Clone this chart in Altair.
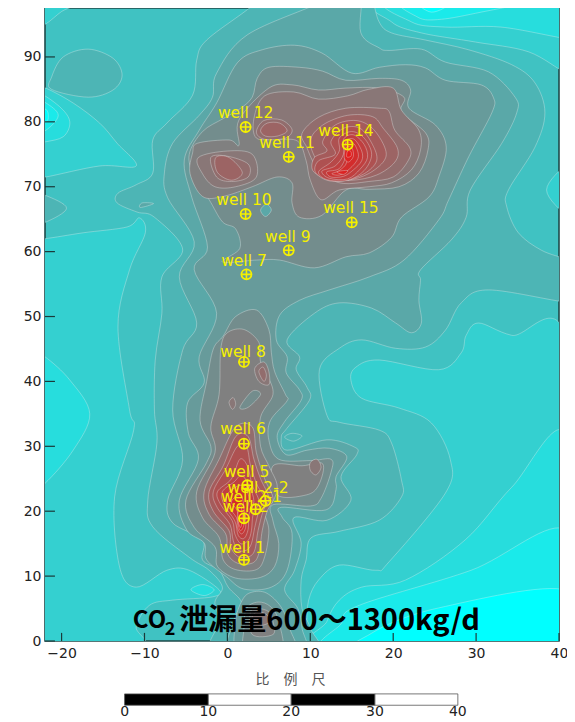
import altair as alt
import pandas as pd

# contour bands: (x, y) in axis units
L3_LEFT = [(-22,62),(-17.4,62.9),(-12.1,63.8),(-10.6,65.2),(-9.9,62.9),(-11.8,57.2),(-13.2,48.4),(-11.8,35.6),(-11.3,32.5),(-13.6,22.2),(-13,11.4),(-11,8.3),(-7.3,10.9),(-4.6,10.9),(-1,7.9),(-1.8,6.8),(-6.6,6.3),(-9.4,5.5),(-11,2.2),(-10.6,-1),(-24,-1),(-24,62)]
L2_LEFT = [(-22,43.8),(-19,40.2),(-16.6,35),(-18.6,29.4),(-22,24.3),(-24,23),(-24,45)]
L2_SPOT = [(-4.4,7.9),(-3,8.7),(-1.6,7.9),(-2.8,7)]
L3_UPLEFT = [(-21.9,85.2),(-18.6,82.9),(-15.4,79.8),(-13.3,76.7),(-11,73.2),(-15.4,73.2),(-21.9,71.5),(-24,71.3),(-24,86)]
L2_UPLEFT = [(-22,84),(-19.8,81.8),(-19,79.8),(-19.8,77.7),(-22,76.9),(-24,76.5),(-24,85)]
L1_UPLEFT = [(-22,83),(-20.4,81),(-22,78.6),(-24,78),(-24,84)]
L0_UPLEFT = [(-22,82),(-21.6,80.8),(-22,80),(-24,80),(-24,82)]
L3_CORNER = [(-22,95),(-20,97),(-18.5,98),(-18,100),(-24,100),(-24,94)]
L3_RIGHT = [(41,45.9),(34.3,47.1),(30.3,49),(28.8,47.1),(28.2,44.4),(25.5,41.8),(18.3,43.3),(15.5,42.2),(14.9,40.2),(16.2,37.4),(20.7,35.9),(24.6,33.6),(26.9,27.9),(26.3,22.8),(19.5,12.2),(17.9,10.9),(13.5,11.7),(11,9.4),(9.8,6.3),(9.5,2),(9,-2),(42,-2)]
L2_RIGHT = [(41,31.5),(34.3,23.7),(28.7,15.6),(21.5,9.4),(16.2,8.3),(13.5,6.3),(12,3),(11,-2),(42,-2)]
L1_RIGHT = [(41,17),(29.4,10.9),(15.9,5.5),(13.8,2.8),(13,-2),(42,-2)]
L0_RIGHT = [(41,7.8),(25.5,5.1),(17.4,1.2),(16.7,-2),(42,-2)]
L3_EDGE = [(41,73.5),(38.5,69.5),(41,65.5),(42,66),(42,73)]
L3_TOP = [(18.6,99),(19.8,95.4),(23.4,93.7),(29.9,92.3),(36.3,90.8),(41,87.5),(43,88),(43,100)]
L2_TOP = [(20,99),(22.2,95.4),(26.3,94.6),(33,94.6),(41,92.8),(43,93),(43,100)]
L1_TOP = [(21.5,99),(23,96.1),(25.8,95.8),(30.6,96.9),(36.3,98.5),(37,100)]
L0_TOP = [(22.5,99),(24.6,96.9),(27,98.5),(25,100)]
L5_SPOT_A = [(-24,69.2),(-22,68.7),(-19.4,66.7),(-22,64.5),(-24,64.2)]
L5_SPOT_B = [(-21.2,86.9),(-19.8,90),(-16.8,91.2),(-13.8,89.8),(-12.7,87.2),(-13.8,84.9),(-16.8,83.8),(-21.2,85)]
L5_MAIN = [(17.5,99),(18.3,95.4),(19.8,93.7),(23.9,92.6),(29.1,91.1),(34.3,88.8),(37.1,86),(38.3,81.4),(37.1,76.1),(33.9,69.5),(33.7,66.9),(35.1,62.9),(37.9,60.2),(41,58.8),(42,58),(42,53),(41,52.2),(31.5,54.1),(28.2,52.1),(26.3,47.9),(23.9,45.3),(20.3,45.1),(16.2,46.4),(13.5,45.1),(11.1,41.8),(12,34.8),(13.5,33.7),(18.3,32.5),(19.8,30.5),(21,24.8),(21,22.2),(18.3,18.6),(13.5,16.9),(10.1,15.9),(9.5,12.5),(8.9,9.4),(9,5),(10,2),(10.5,-2),(-1.5,-2),(-1,3),(-1.5,6),(-.6,8.3),(-2.2,10.9),(-4.6,12.9),(-9,17.6),(-9.6,21.7),(-8.5,30.5),(-8.8,35.6),(-8.7,43.3),(-7.9,50.5),(-7.9,56.1),(-5.4,60.4),(-8.8,65.3),(-10.9,66.1),(-13.3,67.5),(-13.2,69),(-11,70.3),(-9,72.1),(-9,77.2),(-7.3,79.8),(-4.2,84.1),(-3.7,89.5),(-2.5,92.6),(2.9,97.8),(4,100),(17,100)]
L6_MAIN = [(15.9,100),(16.1,93.7),(18.3,91.4),(19.5,91),(23.4,91.2),(26.3,89.2),(31.5,87.7),(34.7,83.8),(34.9,81.4),(33.1,76.7),(29.3,69.5),(28.8,65.3),(27,61.8),(23.3,57.2),(23.3,55.6),(23.1,52.5),(23.4,49),(22.2,47.5),(20.3,49),(17.4,51.3),(13.5,52.1),(10.5,50.5),(7.2,46.4),(8.7,43.8),(8.3,41.8),(9.6,39.1),(9.9,37.1),(7.2,32.8),(6.5,31.4),(7.2,29.4),(12,31),(15.3,29.9),(15.6,28.7),(13.7,25.3),(14.9,21.7),(12,18.6),(8,19),(8.9,15.1),(8.1,10.9),(6.9,7.9),(8.5,5),(9,2),(9,-2),(.5,-2),(.8,3.2),(1.7,5.9),(.1,8.3),(-1,10.9),(-3,12.5),(-3,15.6),(-6.6,18.2),(-7.2,21.7),(-5.4,27.9),(-6.6,35.6),(-5.4,44.8),(-3.7,49),(-5.8,56.1),(-4,61.5),(-7.2,68.3),(-7.6,72.1),(-6.6,76.7),(-3.4,81),(-1.8,83.8),(-1.3,87.5),(2.4,93.4),(11.4,98.5),(12,100)]
L5_LENS = [(6.9,31.4),(7.8,32),(9,31.6),(8,30.8)]
L6_DOT = [(-10.5,66.8),(-10.3,67.5),(-8.9,67.4)]
L7_MAIN = [(1.2,89.1),(4.2,91.1),(8.1,91.8),(11.4,90.6),(15,87.5),(18.3,88.4),(21.5,88.8),(23.9,88.3),(26.3,86.4),(30.6,85.7),(32.1,83.7),(31.9,81.4),(29.1,74.6),(26.7,68),(25.5,64.9),(21.3,58.7),(17.1,56.1),(12.3,54.1),(8.7,52.5),(6.3,50.2),(5.9,46.4),(7.2,43.8),(7.1,41.3),(8.7,38.7),(8.9,37.1),(6.9,33.8),(6,31.4),(7.1,28.7),(9.6,29.4),(12.3,29.7),(14.4,28.4),(13.1,25.3),(13.1,23.3),(11.9,20.2),(6.5,20.6),(6.6,19.1),(7.8,16.6),(7.2,10.9),(5.3,8.3),(2,8),(-.1,9.9),(-2.5,12.5),(-2.8,15.1),(-4.9,17.1),(-5.8,21.7),(-3.5,28),(-4.7,32),(-4.8,36.7),(-2.8,39.8),(-3.4,43.8),(-1.3,50.5),(-4,57.2),(-2.4,60.7),(-4.3,68.4),(-5.2,74.1),(-3.4,78.7),(-1.3,82.9)]
L7_BLOB = [(1.8,6.3),(2.9,7.5),(4.7,7.4),(6.5,5.2),(7.5,2),(8,-2),(1.5,-2),(1,3)]
L8_BLOB = [(2.3,5),(3.7,6),(5.2,5.3),(6.2,3),(6.5,-2),(2.2,-2),(2,2)]
L9_BLOB = [(2.8,4.5),(3.7,5),(5,4.5),(5.5,3),(5.5,1),(3,1)]
L10_BLOB = [(3,3.8),(3.7,4.5),(4.8,4),(5,2.8),(3.2,2.3)]
L6_SPOT_A = [(14.8,68.7),(16.3,68.8),(17.5,67.8),(15.5,67.5)]
L6_SPOT_B = [(4,66.4),(4.7,67.3),(5.3,66.4),(4.6,65.4)]
L8_NORTH = [(8.7,88.4),(5,88.4),(3.6,86.7),(3,83.8),(1.5,82),(-.5,80.5),(-3,78.5),(-4.6,75),(-4,71.5),(-2.2,68),(-.6,64.6),(1,63.5),(1.5,60.5),(-.6,58.4),(3.5,58.7),(6.3,58.7),(10.5,57.5),(14.3,59.2),(17.1,59.8),(19.8,62.2),(21,65.3),(24.3,68.4),(25.5,71.5),(26.4,76.1),(25.1,79.5),(21.9,82.1),(22.1,84.9),(21,86.4),(18.3,86.7),(14.3,86.4),(11.5,87.8)]
L9_NORTH = [(1.4,80.3),(5,85.2),(7.8,85.7),(11,84.9),(14.3,85.2),(18.3,85.2),(21.3,83.8),(21,81.5),(23.9,78.3),(24.2,75.7),(23.1,72.1),(20.7,70),(17.1,69.6),(14.3,69.5),(11.4,65.6),(8.7,65.3),(7.8,67.5),(7.8,70.6),(6,71.5),(3,70),(-.5,68.5),(-3,68.5),(-4.5,72),(-4.2,75.2),(-3.6,76.7),(.2,77.2),(1.4,76.4)]
L10_EAST = [(17,85),(20,85.2),(21,81.8),(23.1,78.7),(23.3,75.7),(22.2,72.6),(19.8,70.6),(17.1,70),(13.5,69.5),(11.3,68),(10,71),(9.5,74),(8.5,77),(6,77.3),(3.5,77.5),(3.2,80.5),(4.5,84),(8,84.6),(11,83.5),(14.5,84)]
L10_WEST = [(-3.5,74.5),(0,75.5),(3,75),(3.5,71.5),(1,70),(-1.5,70),(-3,72)]
L11_WEST = [(-2,74.5),(0,74.7),(2.5,73.5),(2.5,71.5),(.5,70.8),(-1.3,71.5)]
L12_WEST = [(-1.4,74.5),(.2,74.5),(1.8,72.2),(.5,71),(-1.2,72.2)]
L11_NW = [(3.5,78.4),(4.4,80.2),(6.5,80.3),(7.8,78.8),(7,77.5),(4.5,77.3)]
L12_NW = [(4,78.7),(4.8,79.8),(6.3,79.8),(7.2,78.6),(6,77.8),(4.6,77.8)]
L11_EAST = [(9,78.2),(11,80.7),(14.3,82.1),(18.3,82.1),(19.5,81.6),(20.2,78.7),(22,76),(21.8,74),(20,71.5),(17,70.8),(14,70.5),(12,71.5),(10.5,73.5),(9.6,76)]
L12_EAST = [(10,77),(11.5,79.5),(14.5,81),(17.5,80.8),(18.8,79),(20.5,76),(20.2,73.8),(18,71.8),(15,71),(12.5,71.5),(11,73.5)]
L13_EAST = [(11.5,77),(13,79.5),(15.5,80.2),(17.5,79),(19,76),(18.9,74),(17,72),(14.5,71),(12,71.2),(10.3,72.5),(10.5,74.5),(12,75.5)]
L14_EAST = [(12.5,77),(14,79),(16,79),(17.5,76.5),(18,74),(16.5,72),(14,70.9),(12,71),(10.6,72.3),(11,74),(13,75)]
L15_EAST = [(13.5,77.5),(15,78.5),(16.5,77.5),(17.4,75),(16.5,72.5),(14.5,71),(12,71.1),(11,72.3),(12.5,73.8),(13.5,75.5)]
L16_EAST = [(14,77.3),(15.2,78),(16.5,76.5),(16.9,74.5),(16,72.7),(14.5,71.2),(12.3,71.3),(11.4,72.4),(13,73.2),(14,75)]
L17_EAST = [(14.3,77),(15.3,77.3),(16.2,75.5),(16.2,74),(15.2,72.6),(14,71.6),(12.5,71.5),(12,72.3),(13.5,72.8),(14.3,74.8)]
L18_EAST = [(14.2,76.5),(15.2,76.7),(15.8,75),(15.5,73.8),(14.5,72.5),(13.5,71.8),(12.6,72),(13.5,72.5),(14.4,73.8)]
L19_EAST = [(14.3,76),(15,76),(15.2,74.7),(14.6,73.8),(14.1,74.5)]
L19_SOUTH = [(13.2,72.3),(14.5,72.5),(14,71.9)]
L20_EAST = [(14.5,75.5),(14.9,75.4),(14.9,74.7),(14.4,74.6)]
L8_STEM = [(-.5,47),(1,50),(3.5,51),(5,48),(5.3,44.5),(5.7,41.5),(7,38),(7.2,37),(5.2,34),(5,31),(6.2,28),(10,27.8),(12.5,28),(12.5,26),(11.3,22),(10,20.8),(5.5,21),(5.5,18.5),(6.2,15),(5.7,11.5),(4,9.8),(1,9.7),(-1.2,11.5),(-1.5,14.5),(-4,17.5),(-5,21.7),(-2.5,27.5),(-2,30),(-3.3,34),(-2.5,40),(-1.7,45)]
L9_LOBE = [(5.5,27),(9,27),(11.5,27.3),(11,24),(9.5,22.5),(6,22.5)]
L10_LOBE = [(10,27.5),(10.8,28),(11.3,26.8),(10.7,25.6),(10,26.3)]
L9_STEM = [(0,47.5),(2,48),(3.8,46),(4,43),(4.8,41),(5.5,38),(4,34.5),(4,30),(5,27),(6,24),(5.5,21.5),(4.5,20),(5,17),(4.5,13),(3.5,11),(1,11),(-.5,12.5),(-1,16),(-3,19),(-3.7,23),(-1.5,29),(-2,33),(-1,38),(-.8,45)]
L8_HOLE = [(1.5,36),(3,38.5),(4,38),(2.5,36)]
L10_DOT = [(.2,36.8),(.7,37.5),(1,36.5),(.6,35.7)]
L10_UP = [(3.3,42),(4.4,43),(5,41.5),(5,39.5),(3.8,40)]
L11_UP = [(3.8,41.5),(4.3,42.2),(4.7,41),(4.4,40)]
L10_STEM = [(1,33),(3,33),(3.5,29),(4.5,25),(5.5,22),(4.8,20),(4.2,17),(3.8,13.5),(3,12),(1.2,12),(0,13.5),(-.2,16.5),(-2.2,19.5),(-2.8,23),(-1,28)]
L11_STEM = [(1,31.5),(2.5,31.5),(3.2,28),(4,25),(5,22),(4.3,20),(3.7,17),(3.3,14),(2.6,13),(1.3,13),(.4,14.5),(.2,17),(-1.7,20),(-2.2,23),(-.5,27)]
L12_STEM = [(1.2,30),(2.3,30),(2.8,27),(3.6,24),(4.5,22),(3.8,20),(3.3,17.5),(2.9,15),(2.3,14),(1.3,14),(.7,15.5),(.3,18),(-1.2,20.5),(-1.7,23),(-.2,26.5)]
L13_STEM = [(1.5,28),(2.4,27),(3,24),(3.8,21.5),(3.1,19.5),(2.9,17),(2.5,15.5),(1.6,15),(.9,16.5),(.6,18.5),(-.8,21),(-1.2,23),(.5,25)]
L14_STEM = [(1.7,25.5),(2.6,24),(3.2,21.5),(2.6,19.5),(2.5,17.2),(2,15.8),(1.3,16.3),(.9,18.5),(-.4,21),(-.6,23),(.8,24.5)]
L15_STEM = [(1.8,24),(2.6,22),(2.2,19.5),(2.2,17.5),(1.7,16.5),(1.2,17.5),(1.1,19),(0,21),(.1,22.8)]
L16_STEM = [(1.6,22.5),(2,20.5),(2,18),(1.6,17),(1.3,18),(1.2,20),(.5,21.5)]
L17_STEM = [(1.6,21),(1.8,19),(1.6,17.5),(1.3,18.5),(1.3,20)]

CONTOURS = [
    (3,L3_LEFT),(2,L2_LEFT),(2,L2_SPOT),(3,L3_UPLEFT),(2,L2_UPLEFT),(1,L1_UPLEFT),(0,L0_UPLEFT),(3,L3_CORNER),
    (3,L3_RIGHT),(2,L2_RIGHT),(1,L1_RIGHT),(0,L0_RIGHT),(3,L3_EDGE),(3,L3_TOP),(2,L2_TOP),(1,L1_TOP),(0,L0_TOP),
    (5,L5_SPOT_A),(5,L5_SPOT_B),(5,L5_MAIN),(6,L6_MAIN),(5,L5_LENS),(6,L6_DOT),(7,L7_MAIN),(7,L7_BLOB),(8,L8_BLOB),(9,L9_BLOB),(10,L10_BLOB),
    (6,L6_SPOT_A),(8,L8_NORTH),(9,L9_NORTH),(6,L6_SPOT_B),(10,L10_EAST),(10,L10_WEST),(11,L11_WEST),(12,L12_WEST),(11,L11_NW),(12,L12_NW),
    (11,L11_EAST),(12,L12_EAST),(13,L13_EAST),(14,L14_EAST),(15,L15_EAST),(16,L16_EAST),(17,L17_EAST),(18,L18_EAST),(19,L19_EAST),(19,L19_SOUTH),(20,L20_EAST),
    (8,L8_STEM),(9,L9_LOBE),(10,L10_LOBE),(9,L9_STEM),(8,L8_HOLE),(10,L10_DOT),(10,L10_UP),(11,L11_UP),
    (11,L10_STEM),(13,L11_STEM),(14,L12_STEM),(15,L13_STEM),(16,L14_STEM),(17,L15_STEM),(18,L16_STEM),(18,L17_STEM),
]

WELL_NAMES = ["well 1","well 2","well 2-1","well 2-2","well 5","well 6","well 8","well 7","well 9","well 10","well 15","well 11","well 12","well 14"]
WELL_X = [2,2,3.4,4.6,2.4,2,2,2.3,7.4,2.2,15,7.4,2.2,14.5]
WELL_Y = [12.5,18.9,20.3,21.6,24,30.4,43,56.5,60.2,65.8,64.5,74.6,79.2,76.5]
LABEL_X = [1.8,2.2,2.9,3.7,2.3,1.9,1.9,2.0,7.3,2.0,14.9,7.2,2.2,14.3]
LABEL_Y = [14.3,20.6,22.2,23.6,26.1,32.6,44.6,58.6,62.3,67.9,66.7,76.7,81.3,78.6]

X_TICKS = [-20,-10,0,10,20,30,40]
Y_TICKS = [0,10,20,30,40,50,60,70,80,90]
BAR_STARTS = [-12.4,-2.3,7.7,17.8]
BAR_ENDS = [-2.3,7.7,17.8,27.8]
BAR_FILLS = ["#000000","#ffffff","#000000","#ffffff"]
BAR_LABELS = ["0","10","20","30","40"]
BAR_LABEL_X = [-12.4,-2.3,7.7,17.8,27.8]

rows = []
i = 0
for p, (lvl, pts) in enumerate(CONTOURS):
    for (x, y) in pts:
        rows.append({"poly": p, "i": i, "x": x, "y": y, "lvl": lvl})
        i += 1
contours = pd.DataFrame(rows)

SX = alt.Scale(domain=[-22, 40], nice=False, zero=False)
SY = alt.Scale(domain=[0, 97.54], nice=False, zero=False)
AX = alt.Axis(values=X_TICKS, ticks=False, grid=False, labelFont="DejaVu Sans", labelFontSize=14, labelColor="#222222", labelPadding=5, title=None, domain=False, labelFlush=False, labelOverlap=False)
AY = alt.Axis(values=Y_TICKS, ticks=False, grid=False, labelFont="DejaVu Sans", labelFontSize=14, labelColor="#222222", labelPadding=4, title=None, domain=False, labelOverlap=False)
EX = alt.X("x:Q", scale=SX, axis=AX)
EY = alt.Y("y:Q", scale=SY, axis=AY)

bands = alt.Chart(contours).mark_line(interpolate="cardinal-closed", tension=0, clip=True, opacity=1, fillOpacity=1, stroke="#e8eeee", strokeWidth=0.7, strokeOpacity=0.5).encode(
    x=EX, y=EY,
    detail="poly:N",
    order=alt.Order("i:Q"),
    fill=alt.Fill("lvl:Q", scale=alt.Scale(domain=[0,1,9,21], range=["#00ffff","#1aeaea","#808080","#ee1010"], interpolate="rgb"), legend=None),
)

xt = pd.DataFrame({"x": X_TICKS, "y": [0]*7, "y2": [1.25]*7})
x_ticks = alt.Chart(xt).mark_rule(color="#1a3a3a", strokeWidth=1.2).encode(x=EX, y=EY, y2="y2:Q")
yt = pd.DataFrame({"y": Y_TICKS, "x": [-22]*10, "x2": [-20.8]*10})
y_ticks = alt.Chart(yt).mark_rule(color="#1a3a3a", strokeWidth=1.2).encode(y=EY, x=EX, x2="x2:Q")

wells = pd.DataFrame({"name": WELL_NAMES, "x": WELL_X, "y": WELL_Y, "lx": LABEL_X, "ly": LABEL_Y})
ring = alt.Chart(wells).mark_point(shape="circle", size=100, filled=False, stroke="#f5f000", strokeWidth=1.8, opacity=1).encode(x=EX, y=EY)
cross = alt.Chart(wells).mark_point(shape="M-1,0H1M0,-1V1", size=125, filled=False, stroke="#f5f000", strokeWidth=1.6, opacity=1).encode(x=EX, y=EY)
names = alt.Chart(wells).mark_text(font="DejaVu Sans", fontSize=15.5, color="#f5f000").encode(
    x=alt.X("lx:Q", scale=SX, axis=AX), y=alt.Y("ly:Q", scale=SY, axis=AY), text="name:N")

TITLE_PARTS = ["CO", "2", "泄漏量600～1300kg/d"]
TITLE_X = [-9.4, -6.9, -5.8]
TITLE_Y = [3.1, 1.7, 3.1]
TITLE_SIZE = [24, 18, 29]
title_df = pd.DataFrame({"t": TITLE_PARTS, "x": TITLE_X, "y": TITLE_Y})
title_layers = [
    alt.Chart(title_df.iloc[[k]]).mark_text(font="Noto Sans CJK SC", fontWeight="bold", color="#000000", fontSize=TITLE_SIZE[k], align="center" if k < 2 else "left").encode(
        x=EX, y=EY, text="t:N")
    for k in range(3)
]

bar = pd.DataFrame({"x": BAR_STARTS, "x2": BAR_ENDS, "f": BAR_FILLS, "y": [-8.15]*4, "y2": [-9.9]*4})
bar_rects = alt.Chart(bar).mark_rect(clip=False, stroke="#555555", strokeWidth=0.8).encode(
    x=EX, x2="x2:Q", y=EY, y2="y2:Q", fill=alt.Fill("f:N", scale=None))
bar_lab = pd.DataFrame({"t": BAR_LABELS, "x": BAR_LABEL_X, "y": [-11]*5})
bar_text = alt.Chart(bar_lab).mark_text(font="DejaVu Sans", fontSize=14, color="#222222").encode(x=EX, y=EY, text="t:N")
scale_df = pd.DataFrame({"t": ["比　例　尺"], "x": [7.6], "y": [-6.0]})
scale_text = alt.Chart(scale_df).mark_text(font="Noto Sans CJK SC", fontSize=14, color="#555555").encode(x=EX, y=EY, text="t:N")

chart = alt.layer(bands, x_ticks, y_ticks, ring, cross, names, *title_layers, bar_rects, bar_text, scale_text).properties(
    width=514, height=633,
    autosize=alt.AutoSizeParams(type="none"),
    padding={"left": 37, "top": 0, "right": 8, "bottom": 78},
).configure_view(fill="#40c2c2", stroke="#1f4a4a", strokeWidth=1.6)

chart.save("out.html", embed_options={"renderer": "svg", "actions": False})
